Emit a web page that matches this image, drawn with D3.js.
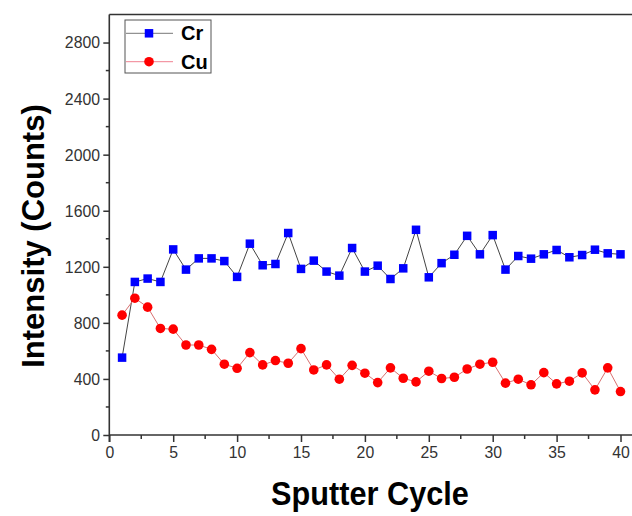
<!DOCTYPE html>
<html><head><meta charset="utf-8">
<script src="https://cdn.jsdelivr.net/npm/d3@7/dist/d3.min.js"></script>
<style>body{margin:0;background:#fff;}svg{display:block;font-family:"Liberation Sans",Arial,sans-serif;}</style>
</head><body>
<svg id="chart" width="632" height="516"></svg>
<script>
const cycles = d3.range(1, 41);
const crValues = [552,1092,1116,1092,1324,1180,1260,1260,1241,1128,1365,1211,1220,1441,1185,1244,1166,1137,1334,1166,1208,1113,1189,1464,1125,1226,1286,1421,1289,1426,1180,1277,1258,1289,1320,1268,1284,1322,1296,1289];
const cuValues = [855,976,912,760,755,642,642,611,505,476,588,500,531,512,616,464,500,398,497,441,374,479,405,379,455,403,412,471,505,519,370,398,358,445,365,384,443,322,479,310];
const xTicks = [0,5,10,15,20,25,30,35,40];
const yTicks = [0,400,800,1200,1600,2000,2400,2800];
const seriesNames = ["Cr","Cu"];

const svg = d3.select("#chart");
const x = d3.scaleLinear().domain([0, 42]).range([109.3, 109.3 + 42*12.78]);
const y = d3.scaleLinear().domain([0, 3000]).range([435, 14.5]);
const axisColor = "#333";

// frame top line
svg.append("line").attr("x1", x(0)).attr("x2", 640).attr("y1", y(3000)).attr("y2", y(3000))
  .attr("stroke", axisColor).attr("stroke-width", 1.6);

// x axis
const xAxis = d3.axisBottom(x).tickValues(xTicks).tickSize(7).tickPadding(4).tickFormat(d3.format("d"));
const gx = svg.append("g").attr("transform", `translate(0,${y(0)})`).call(xAxis);
gx.select(".domain").attr("d", `M${x(0)},0H640`).attr("stroke", axisColor).attr("stroke-width", 1.6);
gx.selectAll(".tick line").attr("stroke", axisColor).attr("stroke-width", 1.5);
gx.selectAll(".tick text").attr("fill", "#333").style("font-size", "17px").attr("transform", "scale(0.93,1)");
const xMinor = d3.range(2.5, 41, 5);
gx.selectAll(".minor").data(xMinor).enter().append("line")
  .attr("x1", d => x(d)).attr("x2", d => x(d)).attr("y1", 0).attr("y2", 4)
  .attr("stroke", axisColor).attr("stroke-width", 1.5);

// y axis
const yAxis = d3.axisLeft(y).tickValues(yTicks).tickSize(6).tickPadding(4).tickFormat(d3.format("d"));
const gy = svg.append("g").attr("transform", `translate(${x(0)},0)`).call(yAxis);
gy.select(".domain").attr("d", `M0,${y(3000)}V${y(0)+7}`).attr("stroke", axisColor).attr("stroke-width", 1.6);
gy.selectAll(".tick line").attr("stroke", axisColor).attr("stroke-width", 1.5);
gy.selectAll(".tick text").attr("fill", "#333").style("font-size", "17px").attr("transform", "scale(0.93,1)");
const yMinor = d3.range(200, 3000, 400);
gy.selectAll(".minor").data(yMinor).enter().append("line")
  .attr("x1", 0).attr("x2", -3.5).attr("y1", d => y(d)).attr("y2", d => y(d))
  .attr("stroke", axisColor).attr("stroke-width", 1.5);

// axis titles
svg.append("text").attr("transform", "translate(370,505) scale(0.93,1)").attr("text-anchor", "middle")
  .style("font-size", "33px").style("font-weight", "bold").attr("fill", "#000").text("Sputter Cycle");
svg.append("text").attr("transform", "translate(44,236) rotate(-90)").attr("text-anchor", "middle")
  .style("font-size", "31px").style("font-weight", "bold").attr("fill", "#000").text("Intensity (Counts)");

// series
const line = d3.line().x((d, i) => x(cycles[i])).y(d => y(d));
svg.append("path").datum(crValues).attr("d", line).attr("fill", "none").attr("stroke", "#444").attr("stroke-width", 1);
svg.append("path").datum(cuValues).attr("d", line).attr("fill", "none").attr("stroke", "#d87070").attr("stroke-width", 1);
const sq = 8.5;
svg.selectAll(".cr").data(crValues).enter().append("rect")
  .attr("x", (d, i) => x(cycles[i]) - sq/2).attr("y", d => y(d) - sq/2)
  .attr("width", sq).attr("height", sq).attr("fill", "#0000ff");
svg.selectAll(".cu").data(cuValues).enter().append("circle")
  .attr("cx", (d, i) => x(cycles[i])).attr("cy", d => y(d)).attr("r", 4.8).attr("fill", "#ff0000");

// legend
const lg = svg.append("g");
lg.append("rect").attr("x", 125).attr("y", 20).attr("width", 86).attr("height", 53)
  .attr("fill", "#fff").attr("stroke", "#555").attr("stroke-width", 1);
const rows = [{name: seriesNames[0], y: 33.3, line: "#777", mk: "sq"}, {name: seriesNames[1], y: 61.7, line: "#f08090", mk: "ci"}];
rows.forEach(r => {
  lg.append("line").attr("x1", 126).attr("x2", 173).attr("y1", r.y).attr("y2", r.y).attr("stroke", r.line).attr("stroke-width", 1);
  if (r.mk === "sq") lg.append("rect").attr("x", 149 - sq/2).attr("y", r.y - sq/2).attr("width", sq).attr("height", sq).attr("fill", "#0000ff");
  else lg.append("circle").attr("cx", 149).attr("cy", r.y).attr("r", 4.8).attr("fill", "#ff0000");
  lg.append("text").attr("x", 181).attr("y", r.y + 7).style("font-size", "20px").style("font-weight", "bold").attr("fill", "#000").text(r.name);
});
</script>
</body></html>
